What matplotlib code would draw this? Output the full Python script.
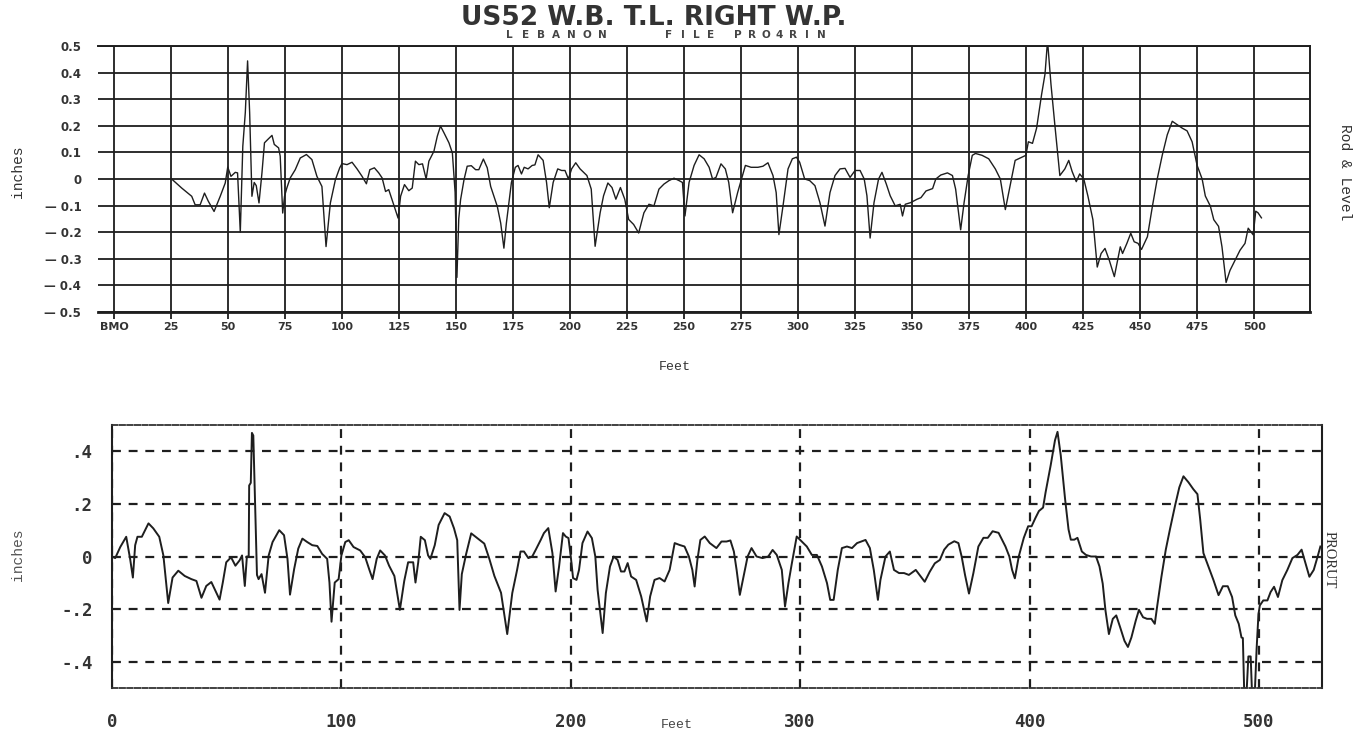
import matplotlib
matplotlib.use('Agg')
import matplotlib.pyplot as plt
import numpy as np

# Rod & Level profile (top chart), feet vs inches
rod_feet = [25.3, 29.7, 34.1, 35.6, 37.8, 39.7, 41.4, 43.9, 46.6, 48.8,
            49.9, 51.3, 53.2, 54.2, 55.4, 56.5, 57.6, 58.6, 59.5, 60.5,
            61.5, 62.4, 63.6, 64.9, 66.0, 67.5, 69.3, 70.3, 72.2, 72.9,
            74.0, 74.8, 75.8, 77.3, 79.5, 81.7, 84.4, 86.8, 89.0, 91.2,
            93.0, 94.9, 97.1, 99.0, 100.0, 102.2, 104.4, 106.6, 108.8, 110.7,
            112.2, 114.2, 116.1, 117.6, 119.1, 120.5, 122.7, 124.6, 125.7, 127.4,
            129.3, 130.8, 132.2, 133.7, 135.3, 136.9, 138.1, 140.3, 141.8, 143.2,
            144.7, 146.9, 148.4, 149.6, 150.4, 151.2, 152.0, 153.5, 154.9, 156.7,
            158.6, 160.0, 162.0, 163.7, 165.2, 168.1, 169.6, 171.0, 172.1, 174.3,
            176.0, 177.2, 178.7, 179.9, 181.6, 183.4, 184.6, 186.0, 188.2, 189.7,
            190.9, 192.6, 194.6, 196.3, 197.8, 199.3, 200.7, 202.5, 204.4, 207.4,
            209.3, 211.0, 213.2, 214.7, 216.6, 218.4, 220.1, 222.1, 224.0, 225.7,
            227.9, 230.1, 232.4, 234.6, 236.8, 239.0, 241.2, 243.4, 245.6, 247.8,
            249.3, 250.4, 252.2, 254.4, 256.6, 258.8, 261.0, 262.5, 264.0, 266.2,
            268.1, 269.6, 271.3, 273.5, 275.4, 276.9, 279.4, 282.4, 284.6, 286.8,
            289.0, 290.4, 291.6, 293.4, 295.6, 297.5, 299.3, 300.7, 302.9, 305.1,
            307.4, 309.6, 311.8, 314.0, 316.2, 318.4, 320.6, 322.8, 325.0, 327.2,
            329.0, 330.2, 331.6, 333.3, 335.3, 336.8, 338.7, 340.4, 342.6, 344.8,
            345.8, 347.0, 349.3, 352.2, 353.9, 356.1, 359.0, 360.4, 362.6, 365.5,
            367.7, 369.1, 371.3, 372.8, 374.6, 376.4, 377.8, 380.7, 383.6, 386.5,
            388.7, 390.9, 393.0, 395.2, 397.4, 399.9, 401.0, 402.8, 404.6, 406.8,
            408.3, 409.4, 410.9, 412.6, 414.8, 417.0, 418.7, 420.2, 422.0, 423.5,
            425.3, 427.1, 429.3, 431.2, 432.9, 434.6, 436.5, 438.7, 440.1, 441.3,
            442.3, 444.2, 445.9, 447.4, 449.1, 450.6, 453.2, 455.4, 457.5, 459.7,
            461.9, 464.1, 466.3, 468.5, 470.6, 472.8, 475.0, 477.2, 478.6, 480.8,
            482.3, 484.4, 485.9, 487.7, 489.4, 491.6, 493.8, 496.0, 497.4, 499.6,
            500.7, 501.7, 503.2]
rod_inches = [0.0, -0.034, -0.065, -0.097, -0.097, -0.053, -0.084, -0.122, -0.065, -0.015,
              0.045, 0.01, 0.025, 0.023, -0.2, 0.123, 0.25, 0.444, 0.25, -0.065,
              -0.013, -0.025, -0.09, 0.023, 0.136, 0.149, 0.164, 0.13, 0.117, 0.086,
              -0.128, -0.065, -0.034, 0.004, 0.035, 0.079, 0.092, 0.073, 0.01, -0.028,
              -0.254, -0.09, -0.003, 0.042, 0.058, 0.054, 0.063, 0.038, 0.01, -0.018,
              0.035, 0.042, 0.023, 0.004, -0.047, -0.04, -0.097, -0.147, -0.065, -0.021,
              -0.044, -0.034, 0.067, 0.054, 0.057, 0.0, 0.067, 0.104, 0.161, 0.199,
              0.174, 0.136, 0.098, -0.05, -0.37, -0.15, -0.078, -0.003, 0.048, 0.05,
              0.035, 0.035, 0.075, 0.042, -0.028, -0.103, -0.166, -0.26, -0.165, -0.013,
              0.044, 0.051, 0.019, 0.044, 0.038, 0.051, 0.053, 0.091, 0.07, -0.013,
              -0.108, -0.013, 0.038, 0.032, 0.032, 0.0, 0.038, 0.061, 0.038, 0.013,
              -0.038, -0.253, -0.127, -0.063, -0.015, -0.032, -0.076, -0.032, -0.076, -0.152,
              -0.171, -0.203, -0.127, -0.095, -0.101, -0.038, -0.019, -0.006, 0.003, -0.006,
              -0.013, -0.139, -0.013, 0.051, 0.091, 0.076, 0.044, 0.0, 0.006, 0.057,
              0.038, -0.013, -0.127, -0.051, 0.006, 0.051, 0.044, 0.044, 0.048, 0.061,
              0.013, -0.051, -0.209, -0.101, 0.038, 0.076, 0.082, 0.063, 0.0, -0.006,
              -0.025, -0.089, -0.177, -0.051, 0.013, 0.038, 0.04, 0.006, 0.032, 0.032,
              0.0, -0.063, -0.222, -0.089, 0.0, 0.025, -0.019, -0.063, -0.101, -0.095,
              -0.139, -0.095, -0.089, -0.076, -0.07, -0.045, -0.036, 0.0, 0.015, 0.023,
              0.013, -0.038, -0.191, -0.089, 0.013, 0.089, 0.096, 0.089, 0.076, 0.038,
              0.0, -0.115, -0.025, 0.07, 0.079, 0.089, 0.14, 0.134, 0.191, 0.318,
              0.395, 0.52, 0.357, 0.204, 0.013, 0.038, 0.07, 0.028, -0.01, 0.019,
              0.0, -0.064, -0.153, -0.331, -0.28, -0.261, -0.306, -0.367, -0.306, -0.255,
              -0.28, -0.242, -0.204, -0.236, -0.242, -0.265, -0.217, -0.102, 0.0, 0.089,
              0.166, 0.217, 0.204, 0.191, 0.181, 0.14, 0.051, 0.0, -0.064, -0.102,
              -0.153, -0.178, -0.255, -0.389, -0.344, -0.306, -0.268, -0.242, -0.185, -0.21,
              -0.121, -0.127, -0.146]

# PRORUT profile (bottom chart)
prorut_feet = [0.0, 1.4, 3.6, 6.2, 7.9, 9.1, 10.1, 11.1, 13.0, 15.9,
               18.0, 20.6, 22.4, 24.5, 26.4, 28.9, 31.7, 34.6, 36.8, 39.0,
               41.1, 43.3, 45.5, 46.9, 48.3, 49.8, 51.9, 53.8, 55.6, 56.7,
               57.9, 58.8, 59.6, 59.8, 60.5, 61.0, 61.6, 62.3, 63.2, 63.9,
               65.2, 66.7, 68.3, 70.0, 72.9, 75.0, 76.5, 77.6, 79.4, 81.2,
               83.0, 85.1, 87.3, 89.5, 91.6, 93.8, 94.8, 95.7, 97.1, 98.8,
               100.0, 101.7, 103.2, 105.3, 108.2, 110.4, 112.1, 113.6, 115.4, 116.9,
               119.0, 120.8, 123.1, 124.8, 125.5, 127.4, 129.1, 131.3, 132.3, 133.5,
               134.6, 136.4, 137.8, 138.8, 140.7, 142.4, 145.0, 147.2, 149.1, 150.5,
               151.5, 152.5, 154.4, 156.6, 159.5, 162.3, 164.5, 166.7, 169.6, 172.3,
               174.5, 176.6, 178.1, 179.6, 181.5, 183.2, 184.7, 186.9, 188.3, 190.2,
               192.0, 193.4, 194.9, 196.6, 197.8, 199.0, 200.0, 201.0, 202.5, 203.6,
               205.1, 207.3, 209.2, 210.7, 211.7, 212.7, 213.9, 215.3, 217.1, 218.7,
               220.4, 221.9, 223.4, 224.8, 226.3, 228.5, 230.7, 233.1, 234.6, 236.5,
               238.7, 240.9, 243.1, 245.3, 247.4, 249.6, 251.5, 253.0, 254.0, 255.2,
               256.5, 258.4, 260.6, 263.5, 265.7, 267.9, 269.6, 271.1, 272.3, 273.7,
               275.2, 277.1, 278.8, 281.0, 283.6, 286.1, 288.0, 289.8, 292.0, 293.4,
               294.9, 296.4, 298.5, 300.7, 302.9, 305.1, 307.3, 309.5, 311.7, 313.1,
               314.6, 316.4, 318.2, 320.4, 322.6, 324.8, 328.5, 330.4, 332.1, 333.9,
               335.0, 337.2, 339.1, 340.9, 343.1, 345.3, 347.4, 350.4, 354.3, 356.5,
               358.7, 360.9, 362.8, 364.6, 367.2, 369.0, 370.4, 371.9, 373.6, 375.5,
               377.7, 379.9, 381.8, 383.9, 386.5, 389.5, 391.2, 392.4, 393.6, 395.3,
               397.5, 399.4, 400.9, 402.6, 404.1, 405.9, 407.0, 409.2, 411.1, 412.2,
               413.6, 415.5, 417.0, 418.0, 419.5, 420.9, 422.8, 424.6, 426.8, 429.0,
               430.5, 431.9, 433.1, 434.6, 436.3, 437.8, 439.5, 441.4, 442.9, 444.4,
               446.3, 447.7, 449.5, 451.2, 453.1, 454.6, 455.6, 457.5, 459.4, 461.2,
               463.4, 465.3, 467.1, 469.3, 471.4, 473.2, 474.4, 475.8, 478.0, 480.2,
               482.4, 484.3, 486.4, 488.3, 489.7, 491.2, 492.4, 493.0, 493.6, 494.6,
               495.4, 496.4, 497.0, 498.2, 499.0, 499.8, 500.4, 501.9, 503.7, 505.1,
               506.6, 508.3, 510.2, 512.4, 514.6, 516.8, 518.6, 520.5, 522.0, 523.9,
               525.6, 526.8]
prorut_inches = [0.0, -0.006, 0.036, 0.075, -0.009, -0.08, 0.043, 0.075, 0.075, 0.126,
                 0.107, 0.075, 0.004, -0.177, -0.08, -0.054, -0.074, -0.086, -0.093, -0.157,
                 -0.112, -0.097, -0.138, -0.164, -0.099, -0.022, -0.003, -0.035, -0.015, 0.004,
                 -0.112, 0.0, 0.0, 0.27, 0.28, 0.47, 0.46, 0.23, -0.07, -0.086,
                 -0.067, -0.138, 0.004, 0.055, 0.1, 0.081, -0.009, -0.145, -0.048, 0.03,
                 0.068, 0.055, 0.043, 0.04, 0.01, -0.009, -0.099, -0.248, -0.099, -0.086,
                 0.004, 0.055, 0.062, 0.036, 0.023, -0.003, -0.048, -0.086, -0.009, 0.023,
                 0.004, -0.035, -0.074, -0.164, -0.203, -0.093, -0.022, -0.022, -0.099, -0.022,
                 0.075, 0.062, 0.004, -0.009, 0.043, 0.12, 0.165, 0.152, 0.107, 0.062,
                 -0.203, -0.067, 0.01, 0.088, 0.068, 0.049, -0.009, -0.074, -0.138, -0.295,
                 -0.139, -0.051, 0.019, 0.019, -0.006, 0.0, 0.025, 0.063, 0.089, 0.108,
                 0.013, -0.133, -0.038, 0.089, 0.076, 0.07, 0.0, -0.082, -0.089, -0.051,
                 0.051, 0.095, 0.07, 0.0, -0.127, -0.203, -0.291, -0.139, -0.038, 0.0,
                 -0.013, -0.057, -0.057, -0.025, -0.076, -0.089, -0.152, -0.247, -0.152, -0.089,
                 -0.082, -0.095, -0.051, 0.051, 0.044, 0.038, 0.0, -0.051, -0.114, -0.013,
                 0.063, 0.076, 0.051, 0.032, 0.057, 0.057, 0.061, 0.019, -0.051, -0.146,
                 -0.082, 0.0, 0.032, 0.0, -0.006, 0.0, 0.025, 0.006, -0.051, -0.19,
                 -0.101, -0.025, 0.076, 0.057, 0.038, 0.006, 0.006, -0.038, -0.101, -0.165,
                 -0.165, -0.051, 0.032, 0.038, 0.032, 0.051, 0.063, 0.032, -0.051, -0.165,
                 -0.089, 0.0, 0.019, -0.051, -0.063, -0.063, -0.07, -0.051, -0.096, -0.058,
                 -0.026, -0.013, 0.026, 0.045, 0.058, 0.051, 0.0, -0.071, -0.141, -0.064,
                 0.038, 0.071, 0.071, 0.096, 0.09, 0.038, 0.0, -0.051, -0.083, 0.0,
                 0.071, 0.115, 0.115, 0.147, 0.173, 0.186, 0.244, 0.346, 0.442, 0.474,
                 0.385, 0.218, 0.103, 0.064, 0.064, 0.071, 0.019, 0.006, 0.0, 0.0,
                 -0.038, -0.103, -0.205, -0.295, -0.237, -0.224, -0.269, -0.321, -0.344, -0.308,
                 -0.244, -0.203, -0.231, -0.237, -0.237, -0.256, -0.192, -0.077, 0.026, 0.103,
                 0.192, 0.263, 0.305, 0.282, 0.256, 0.237, 0.141, 0.013, -0.038, -0.09,
                 -0.147, -0.113, -0.113, -0.154, -0.224, -0.256, -0.308, -0.31, -0.52, -0.52,
                 -0.38, -0.38, -0.52, -0.52, -0.35, -0.22, -0.186, -0.167, -0.167, -0.135,
                 -0.115, -0.154, -0.09, -0.051, -0.006, 0.006, 0.026, -0.032, -0.077, -0.051,
                 0.0, 0.038]

rod_xticks = list(range(0, 501, 25))
rod_xlabels = ['BMO'] + [str(v) for v in rod_xticks[1:]]
rod_yticks = [round(v, 1) for v in np.arange(-0.5, 0.51, 0.1)]
rod_ylabels = ['\u2014 0.5', '\u2014 0.4', '\u2014 0.3', '\u2014 0.2', '\u2014 0.1', '0',
               '0.1', '0.2', '0.3', '0.4', '0.5']
prorut_xticks = [0, 100, 200, 300, 400, 500]
prorut_yticks = [-0.4, -0.2, 0, 0.2, 0.4]
prorut_ylabels = ['-.4', '-.2', '0', '.2', '.4']

W, H = 1367, 736
ink = '#1e1e1e'


def box(left, top, right, bottom):
    # pixel box -> figure fraction rectangle
    return [left / W, 1 - bottom / H, (right - left) / W, (bottom - top) / H]


def spaced(fig, text, x0, x1, y, **kw):
    # spread the letters of a plotter caption evenly between x0 and x1 (pixels)
    n = len(text)
    for i, ch in enumerate(text):
        if ch == ' ':
            continue
        x = x0 + (x1 - x0) * (i + 0.5) / n
        fig.text(x / W, 1 - y / H, ch, ha='center', va='center', **kw)


fig = plt.figure(figsize=(W / 100, H / 100), dpi=100)

# ---- top: Rod & Level ----
ax1 = fig.add_axes(box(98, 46, 1310, 312))
ax1.plot(rod_feet, rod_inches, color=ink, lw=1.0)
ax1.set_xlim(-7, 524.5)
ax1.set_ylim(-0.5, 0.5)
ax1.set_xticks(rod_xticks)
ax1.set_xticklabels(rod_xlabels, fontsize=8, fontweight='bold', color='#333')
ax1.set_yticks(rod_yticks)
ax1.set_yticklabels(rod_ylabels, fontsize=8.5, fontweight='bold', color='#333')
ax1.grid(True, color=ink, lw=1.3)
ax1.set_axisbelow(True)
ax1.tick_params(axis='x', direction='out', length=5, width=1.3, color=ink, pad=2)
ax1.tick_params(axis='y', length=0, pad=12)
ax1.spines['left'].set_visible(False)
for side in ['top', 'right']:
    ax1.spines[side].set_linewidth(1.4)
    ax1.spines[side].set_color(ink)
ax1.spines['bottom'].set_linewidth(2.0)
ax1.spines['bottom'].set_color(ink)

fig.text(654 / W, 1 - 18 / H, 'US52 W.B. T.L. RIGHT W.P.', ha='center', va='center',
         fontsize=19, fontweight='bold', color='#333')
spaced(fig, 'LEBANON', 502, 610, 35, fontsize=7.5, fontweight='bold', color='#444')
spaced(fig, 'FILE PRO4RIN', 662, 828, 35, fontsize=7.5, fontweight='bold', color='#444')
fig.text(18 / W, 1 - 172 / H, 'inches', rotation=90, ha='center', va='center',
         fontsize=10.5, family='Liberation Mono', color='#333')
fig.text(1345 / W, 1 - 172 / H, 'Rod & Level', rotation=-90, ha='center', va='center',
         fontsize=10.5, family='Liberation Mono', color='#333')
fig.text(675 / W, 1 - 367 / H, 'Feet', ha='center', va='center',
         fontsize=9.5, family='Liberation Mono', color='#333')

# ---- bottom: PRORUT ----
ax2 = fig.add_axes(box(112, 425, 1322, 688))
ax2.plot(prorut_feet, prorut_inches, color=ink, lw=1.4)
ax2.set_xlim(0, 527.5)
ax2.set_ylim(-0.5, 0.5)
ax2.set_xticks(prorut_xticks)
ax2.set_xticklabels([str(v) for v in prorut_xticks], fontsize=12.5, fontweight='bold',
                    family='DejaVu Sans Mono', color='#333')
ax2.set_yticks(prorut_yticks)
ax2.set_yticklabels(prorut_ylabels, fontsize=12.5, fontweight='bold',
                    family='DejaVu Sans Mono', color='#333')
ax2.tick_params(axis='x', length=0, pad=18)
ax2.tick_params(axis='y', length=0, pad=14)
ax2.grid(True, color=ink, lw=1.6, linestyle=(0, (4, 3.5)))
ax2.set_axisbelow(True)
for side in ['left', 'right']:
    ax2.spines[side].set_linewidth(1.5)
    ax2.spines[side].set_color(ink)
for side in ['top', 'bottom']:
    ax2.spines[side].set_linewidth(1.3)
    ax2.spines[side].set_color('#333')
    ax2.spines[side].set_linestyle((0, (3, 1.2)))

fig.text(18 / W, 1 - 555 / H, 'inches', rotation=90, ha='center', va='center',
         fontsize=10.5, family='Liberation Mono', color='#555')
fig.text(1329 / W, 1 - 560 / H, 'PRORUT', rotation=-90, ha='center', va='center',
         fontsize=10.5, family='Liberation Serif', color='#333')
fig.text(677 / W, 1 - 725 / H, 'Feet', ha='center', va='center',
         fontsize=9.5, family='Liberation Mono', color='#444')

fig.savefig('out.png', dpi=100, facecolor='white')
